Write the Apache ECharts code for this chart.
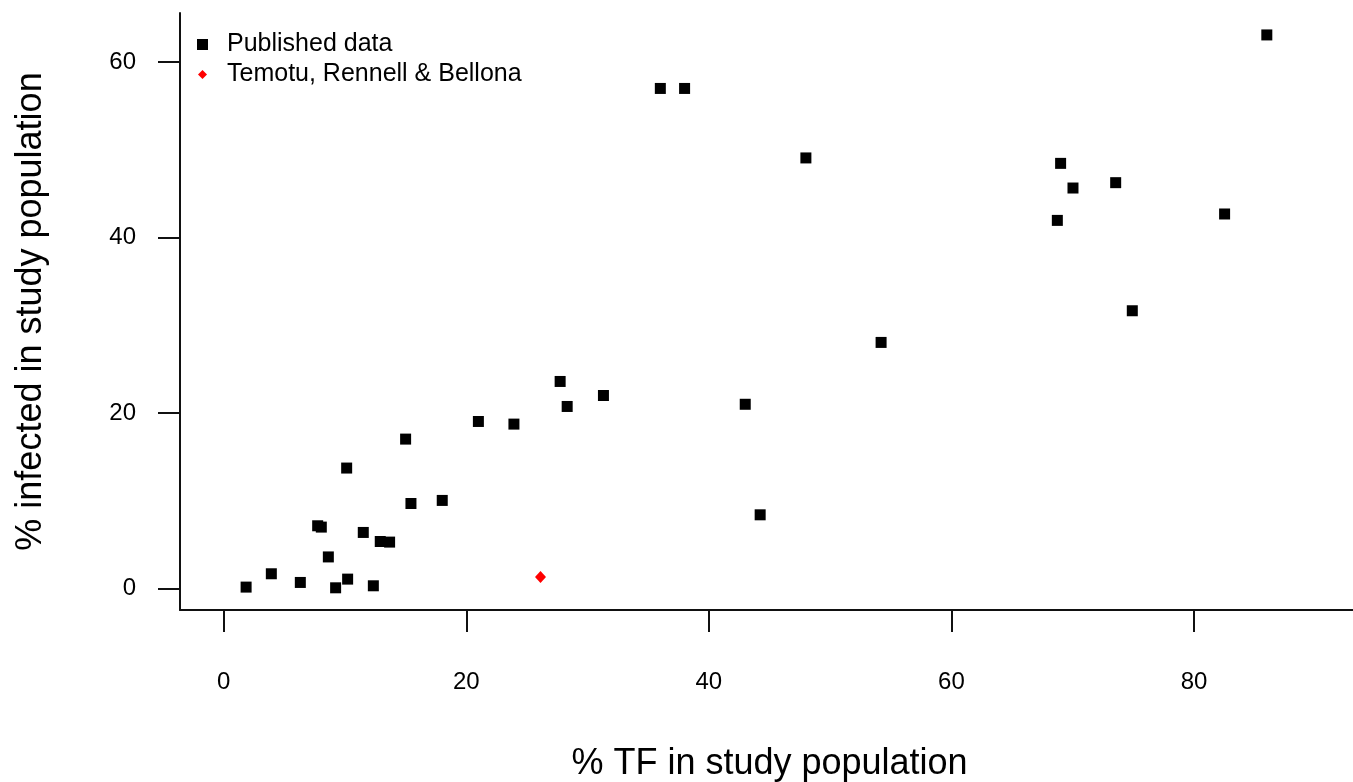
<!DOCTYPE html>
<html>
<head>
<meta charset="utf-8">
<script src="https://cdn.jsdelivr.net/npm/echarts@6/dist/echarts.min.js"></script>
<style>
html,body{margin:0;padding:0;background:#fff;}
#chart{width:1353px;height:782px;}
</style>
</head>
<body>
<div id="chart"></div>
<script>
// Data
var seriesNames = ['Published data', 'Temotu, Rennell & Bellona'];
var tfPublished = [1.85, 3.93, 6.32, 7.75, 8.05, 8.63, 9.23, 10.14, 10.22, 11.51, 12.34, 12.91, 13.68, 15.0, 15.44, 18.02, 21.0, 23.93, 27.74, 28.32, 31.31, 36.0, 38.0, 43.0, 44.23, 48.0, 54.2, 68.73, 69.0, 70.02, 73.54, 74.91, 82.52, 86.0];
var infPublished = [0.16, 1.68, 0.69, 7.15, 7.0, 3.6, 0.08, 13.73, 1.07, 6.39, 0.31, 5.36, 5.29, 17.03, 9.69, 10.04, 19.04, 18.74, 23.6, 20.75, 22.0, 57.0, 57.0, 21.0, 8.4, 49.08, 28.05, 41.96, 48.46, 45.65, 46.26, 31.66, 42.69, 63.1];
var tfTemotu = [26.12];
var infTemotu = [1.3];
var xTicks = [0, 20, 40, 60, 80];
var yTicks = [0, 20, 40, 60];
var xTitle = '% TF in study population';
var yTitle = '% infected in study population';

function pairs(xs, ys) { return xs.map(function (v, i) { return [v, ys[i]]; }); }

var FONT = "'Liberation Sans', Arial, Helvetica, sans-serif";
var INK = '#111';

var chart = echarts.init(document.getElementById('chart'), null, {renderer: 'canvas'});
chart.setOption({
  backgroundColor: '#fff',
  animation: false,
  textStyle: {fontFamily: FONT, color: '#000'},
  grid: {left: 180, right: -6, top: 13, bottom: 172, containLabel: false, outerBoundsMode: 'none'},
  legend: [
    {
      data: [{name: seriesNames[0], icon: 'rect'}],
      left: 197, top: 32, padding: 0,
      itemWidth: 11, itemHeight: 11,
      textStyle: {fontFamily: FONT, fontSize: 25, color: '#000', padding: [0, 0, 0, 14]}
    },
    {
      data: [{name: seriesNames[1], icon: 'diamond'}],
      left: 198, top: 62, padding: 0,
      itemWidth: 9, itemHeight: 9,
      textStyle: {fontFamily: FONT, fontSize: 25, color: '#000', padding: [0, 0, 0, 15]}
    }
  ],
  xAxis: {
    type: 'value', min: -3.6, max: 93.6,
    name: xTitle, nameLocation: 'middle', nameGap: 136,
    nameTextStyle: {fontFamily: FONT, fontSize: 36, color: '#000'},
    axisLine: {show: true, onZero: false, lineStyle: {color: INK, width: 2}},
    axisTick: {show: true, inside: false, length: 22, customValues: xTicks, lineStyle: {color: INK, width: 2}},
    axisLabel: {show: true, margin: 60, customValues: xTicks, fontFamily: FONT, fontSize: 24, color: '#000'},
    splitLine: {show: false}
  },
  yAxis: {
    type: 'value', min: -2.45, max: 65.6,
    name: yTitle, nameLocation: 'middle', nameGap: 131, nameRotate: 90,
    nameTextStyle: {fontFamily: FONT, fontSize: 36, color: '#000'},
    axisLine: {show: true, onZero: false, lineStyle: {color: INK, width: 2}},
    axisTick: {show: true, inside: false, length: 22, customValues: yTicks, lineStyle: {color: INK, width: 2}},
    axisLabel: {show: true, margin: 44, customValues: yTicks, fontFamily: FONT, fontSize: 24, color: '#000'},
    splitLine: {show: false}
  },
  series: [
    {
      name: seriesNames[0], type: 'scatter', symbol: 'rect', symbolSize: 11,
      itemStyle: {color: '#000', opacity: 1},
      data: pairs(tfPublished, infPublished)
    },
    {
      name: seriesNames[1], type: 'scatter', symbol: 'diamond', symbolSize: [11, 12],
      itemStyle: {color: '#ff0000', opacity: 1},
      data: pairs(tfTemotu, infTemotu)
    }
  ]
});
</script>
</body>
</html>
